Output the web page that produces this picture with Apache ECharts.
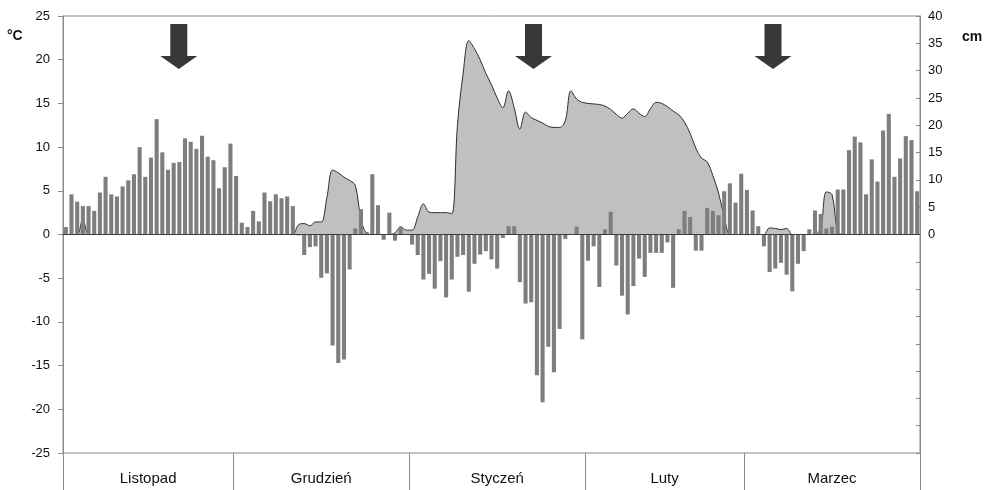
<!DOCTYPE html>
<html>
<head>
<meta charset="utf-8">
<script src="https://cdn.jsdelivr.net/npm/echarts@6/dist/echarts.min.js"></script>
<style>
  html, body { margin: 0; padding: 0; background: #ffffff; }
  #chart { width: 990px; height: 490px; }
</style>
</head>
<body>
<div id="chart"></div>
<script>
// Winter season, 1 November – 31 March: daily mean air temperature (°C) and snow cover depth (cm)
const months = ['Listopad', 'Grudzień', 'Styczeń', 'Luty', 'Marzec'];
const monthNumbers = [11, 12, 1, 2, 3];
const monthLengths = [30, 31, 31, 28, 31];

// daily mean air temperature, °C
const tempNov = [0.85, 4.6, 3.75, 3.25, 3.25, 2.7, 4.8, 6.6, 4.6, 4.35, 5.5, 6.2, 6.9, 10.0, 6.6,
  8.8, 13.2, 9.4, 7.4, 8.2, 8.3, 11.0, 10.6, 9.8, 11.3, 8.9, 8.5, 5.3, 7.7, 10.4];
const tempDec = [6.7, 1.35, 0.85, 2.7, 1.5, 4.8, 3.8, 4.6, 4.15, 4.35, 3.25, -0.1, -2.35, -1.45, -1.35,
  -4.95, -4.45, -12.7, -14.7, -14.3, -4.0, 0.7, 2.9, 0.3, 6.9, 3.35, -0.6, 2.5, -0.7, 0.9, 0.0];
const tempJan = [-1.15, -2.35, -5.15, -4.5, -6.2, -3.05, -7.2, -5.15, -2.55, -2.35, -6.55, -3.35, -2.3, -1.9, -2.85,
  -3.9, -0.4, 0.95, 0.95, -5.45, -7.9, -7.75, -16.1, -19.2, -12.85, -15.75, -10.8, -0.5, 0.0, 0.9, -12.0];
const tempFeb = [-3.0, -1.35, -6.0, 0.6, 2.6, -3.55, -7.0, -9.15, -5.9, -2.75, -4.85, -2.1, -2.1, -2.1,
  -0.9, -6.1, 0.6, 2.7, 2.0, -1.85, -1.85, 3.05, 2.7, 2.2, 4.95, 5.85, 3.65, 6.95];
const tempMar = [5.1, 2.75, 0.95, -1.35, -4.3, -3.9, -3.25, -4.6, -6.5, -3.35, -1.9, 0.6, 2.75, 2.35, 0.7,
  0.9, 5.15, 5.15, 9.65, 11.2, 10.55, 4.6, 8.6, 6.05, 11.9, 13.8, 6.6, 8.7, 11.25, 10.8, 4.95];

// snow cover depth, cm
const snowNov = [0, 0, 0, 2.8, 0, 0, 0, 0, 0, 0, 0, 0, 0, 0, 0,
  0, 0, 0, 0, 0, 0, 0, 0, 0, 0, 0, 0, 0, 0, 0];
const snowDec = [0, 0, 0, 0, 0, 0, 0, 0, 0, 0, 0, 1.8, 2.0, 1.6, 2.3,
  2.3, 6.8, 11.8, 11.3, 10.5, 9.9, 9.0, 2.8, 0.2, 0, 0, 0, 0, 0.3, 1.4, 0.8];
const snowJan = [0.8, 3.2, 5.6, 4.1, 4.0, 4.0, 4.0, 3.8, 20.0, 29.5, 35.5, 34.0, 32.0, 29.5, 27.4,
  25.0, 23.2, 26.3, 23.2, 19.3, 22.4, 21.4, 20.9, 20.4, 19.8, 19.6, 19.6, 20.8, 26.3, 24.8, 24.2];
const snowFeb = [24.0, 23.9, 23.8, 23.5, 22.9, 22.0, 21.3, 22.2, 23.0, 22.2, 21.6, 23.0, 24.2, 24.0,
  23.4, 22.6, 21.9, 20.6, 18.5, 15.8, 14.0, 13.3, 10.8, 7.6, 3.3, 0, 0, 0];
const snowMar = [0, 0, 0, 0, 1.2, 1.1, 0.9, 1.1, 0, 0, 0, 0, 0, 1.2, 7.8,
  7.3, 0.5, 0, 0, 0, 0, 0, 0, 0, 0, 0, 0, 0, 0, 0, 0];

// observation dates marked with arrows (days counted from 1 November)
const arrowDays = [20.4, 82.9, 125.1];
const arrowLevel = 21.5;

const temperature = [].concat(tempNov, tempDec, tempJan, tempFeb, tempMar);
const snowDepth = [].concat(snowNov, snowDec, snowJan, snowFeb, snowMar);

const days = [];
const monthStarts = [0];
const monthMiddles = [];
monthLengths.forEach(function (len, m) {
  for (let d = 1; d <= len; d++) days.push(d + '.' + monthNumbers[m]);
  const start = monthStarts[m];
  monthMiddles.push(start + len / 2);
  monthStarts.push(start + len);
});
const totalDays = monthStarts[monthStarts.length - 1];

const FONT = "'Liberation Sans', Arial, sans-serif";
const AXIS_GRAY = '#8a8a8a';

const chart = echarts.init(document.getElementById('chart'), null, { renderer: 'canvas' });

chart.setOption({
  animation: false,
  backgroundColor: '#ffffff',
  textStyle: { fontFamily: FONT },
  title: [
    { text: '°C', left: 7, top: 29, padding: 0,
      textStyle: { fontFamily: FONT, fontSize: 14, fontWeight: 'bold', color: '#111' } },
    { text: 'cm', left: 962, top: 30, padding: 0,
      textStyle: { fontFamily: FONT, fontSize: 14, fontWeight: 'bold', color: '#111' } }
  ],
  grid: {
    left: 63, right: 70, top: 16, bottom: 37,
    show: true, borderColor: AXIS_GRAY, borderWidth: 1, backgroundColor: 'transparent'
  },
  xAxis: [
    {
      // daily categories; its line is the zero line of the temperature scale
      type: 'category',
      data: days,
      boundaryGap: true,
      z: 10,
      axisLine: { show: true, onZero: true, lineStyle: { color: '#3c3c3c', width: 1 } },
      axisTick: { show: false },
      axisLabel: { show: false },
      splitLine: { show: false }
    },
    {
      // month band below the plot
      type: 'value',
      min: 0,
      max: totalDays,
      position: 'bottom',
      axisLine: { show: false, onZero: false },
      axisTick: {
        show: true, inside: false, length: 37,
        customValues: monthStarts,
        lineStyle: { color: AXIS_GRAY, width: 1 }
      },
      axisLabel: {
        show: true,
        customValues: monthMiddles,
        margin: 18,
        fontSize: 15,
        color: '#111',
        fontFamily: FONT,
        formatter: function (v) {
          const i = monthMiddles.indexOf(v);
          return i >= 0 ? months[i] : '';
        }
      },
      splitLine: { show: false }
    }
  ],
  yAxis: [
    {
      type: 'value',
      position: 'left',
      min: -25, max: 25, interval: 5,
      axisLine: { show: true, lineStyle: { color: AXIS_GRAY } },
      axisTick: { show: true, length: 5, lineStyle: { color: AXIS_GRAY } },
      axisLabel: { fontSize: 13, color: '#111', margin: 13, fontFamily: FONT },
      splitLine: { show: false }
    },
    {
      type: 'value',
      position: 'right',
      min: -40, max: 40, interval: 5,
      axisLine: { show: true, lineStyle: { color: AXIS_GRAY } },
      axisTick: { show: true, inside: true, length: 4, lineStyle: { color: AXIS_GRAY } },
      axisLabel: {
        fontSize: 13, color: '#111', margin: 8, fontFamily: FONT,
        formatter: function (v) { return v >= 0 ? String(v) : ''; }
      },
      splitLine: { show: false }
    }
  ],
  series: [
    {
      name: 'Pokrywa śnieżna',
      type: 'line',
      xAxisIndex: 0,
      yAxisIndex: 1,
      data: snowDepth,
      smooth: 0.35,
      symbol: 'none',
      z: 1,
      lineStyle: { color: '#2e2e2e', width: 1 },
      areaStyle: { color: '#c0c0c0', opacity: 1 },
      silent: true
    },
    {
      name: 'Temperatura',
      type: 'bar',
      xAxisIndex: 0,
      yAxisIndex: 0,
      data: temperature,
      barCategoryGap: '28%',
      z: 2,
      itemStyle: { color: '#7e7e7e' },
      silent: true
    },
    {
      name: 'Terminy',
      type: 'scatter',
      xAxisIndex: 1,
      yAxisIndex: 0,
      data: arrowDays.map(function (d) { return [d, arrowLevel]; }),
      symbol: 'path://M10,0 L27,0 L27,32 L37,32 L18.5,45 L0,32 L10,32 Z',
      symbolSize: [37, 45],
      z: 3,
      itemStyle: { color: '#383838', opacity: 1 },
      silent: true
    }
  ]
});
</script>
</body>
</html>
